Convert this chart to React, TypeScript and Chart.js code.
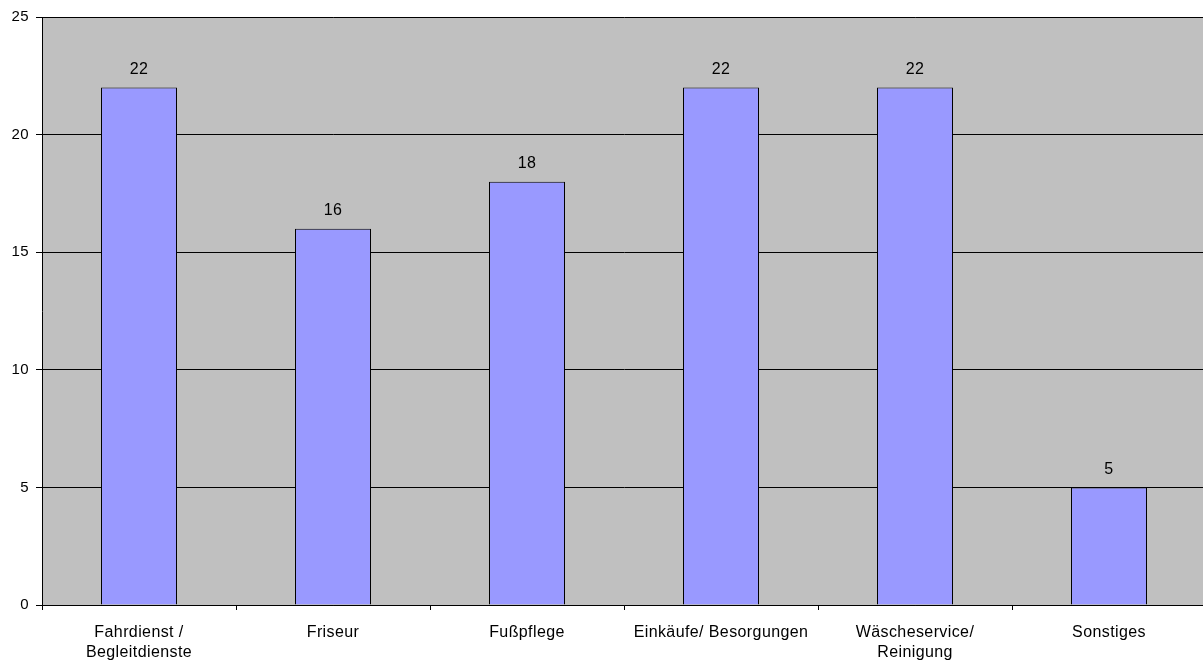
import React, { useEffect, useRef } from "react";
import { Chart, registerables } from "chart.js";

Chart.register(...registerables);

const categories: string[][] = [
  ["Fahrdienst /", "Begleitdienste"],
  ["Friseur"],
  ["Fußpflege"],
  ["Einkäufe/ Besorgungen"],
  ["Wäscheservice/", "Reinigung"],
  ["Sonstiges"],
];
const values: number[] = [22, 16, 18, 22, 22, 5];
const yMin = 0;
const yMax = 25;
const yStep = 5;

const FONT = '"Liberation Sans", Arial, sans-serif';

const spacingPlugin = {
  id: "letterSpacing",
  beforeUpdate(chart: any) {
    if ("letterSpacing" in chart.ctx) chart.ctx.letterSpacing = "0.4px";
  },
  beforeLayout(chart: any) {
    if ("letterSpacing" in chart.ctx) chart.ctx.letterSpacing = "0.4px";
  },
  beforeDraw(chart: any) {
    if ("letterSpacing" in chart.ctx) chart.ctx.letterSpacing = "0.4px";
  },
};

const bgPlugin = {
  id: "plotBg",
  beforeDraw(chart: any) {
    const { ctx, chartArea } = chart;
    if (!chartArea) return;
    ctx.save();
    ctx.fillStyle = "#C0C0C0";
    ctx.fillRect(chartArea.left, chartArea.top, chartArea.right - chartArea.left, chartArea.bottom - chartArea.top);
    ctx.restore();
  },
};

const labelPlugin = {
  id: "valueLabels",
  afterDatasetsDraw(chart: any) {
    const { ctx } = chart;
    const meta = chart.getDatasetMeta(0);
    ctx.save();
    ctx.font = `16px ${FONT}`;
    ctx.fillStyle = "#000";
    ctx.textAlign = "center";
    ctx.textBaseline = "middle";
    meta.data.forEach((el: any, i: number) => {
      const v = chart.data.datasets[0].data[i];
      ctx.fillText(String(v), el.x, el.y - 18);
    });
    ctx.restore();
  },
};

export default function App() {
  const ref = useRef<HTMLCanvasElement>(null);
  useEffect(() => {
    document.body.style.margin = "0";
    const chart = new Chart(ref.current!, {
      type: "bar",
      data: {
        labels: categories,
        datasets: [
          {
            data: values,
            backgroundColor: "#9999FF",
            borderColor: "#000000",
            borderWidth: 1,
            categoryPercentage: 1,
            barPercentage: 76 / 194,
          },
        ],
      },
      options: {
        animation: false,
        responsive: true,
        maintainAspectRatio: false,
        layout: { padding: { top: 17, right: 0, left: 0, bottom: 0 } },
        plugins: { legend: { display: false }, tooltip: { enabled: false } },
        scales: {
          x: {
            offset: true,
            grid: {
              offset: true,
              drawOnChartArea: false,
              drawTicks: true,
              tickLength: 5,
              color: "#000",
            },
            border: { color: "#000", width: 1 },
            ticks: {
              color: "#000",
              font: { family: FONT, size: 16, lineHeight: 1.25 },
              padding: 13,
              maxRotation: 0,
              autoSkip: false,
            },
            afterFit(scale: any) {
              scale.height = 59;
            },
          },
          y: {
            min: yMin,
            max: yMax,
            grid: { color: "#000", lineWidth: 1, tickLength: 6 },
            border: { color: "#000", width: 1 },
            ticks: {
              stepSize: yStep,
              color: "#000",
              font: { family: FONT, size: 15 },
              padding: 7,
            },
            afterFit(scale: any) {
              scale.width = 42;
            },
          },
        },
      },
      plugins: [spacingPlugin, bgPlugin, labelPlugin],
    });
    return () => chart.destroy();
  }, []);
  return (
    <div style={{ width: 1203, height: 664, overflow: "hidden" }}>
      <div style={{ position: "relative", width: 1206, height: 664 }}>
        <canvas ref={ref} />
      </div>
    </div>
  );
}
